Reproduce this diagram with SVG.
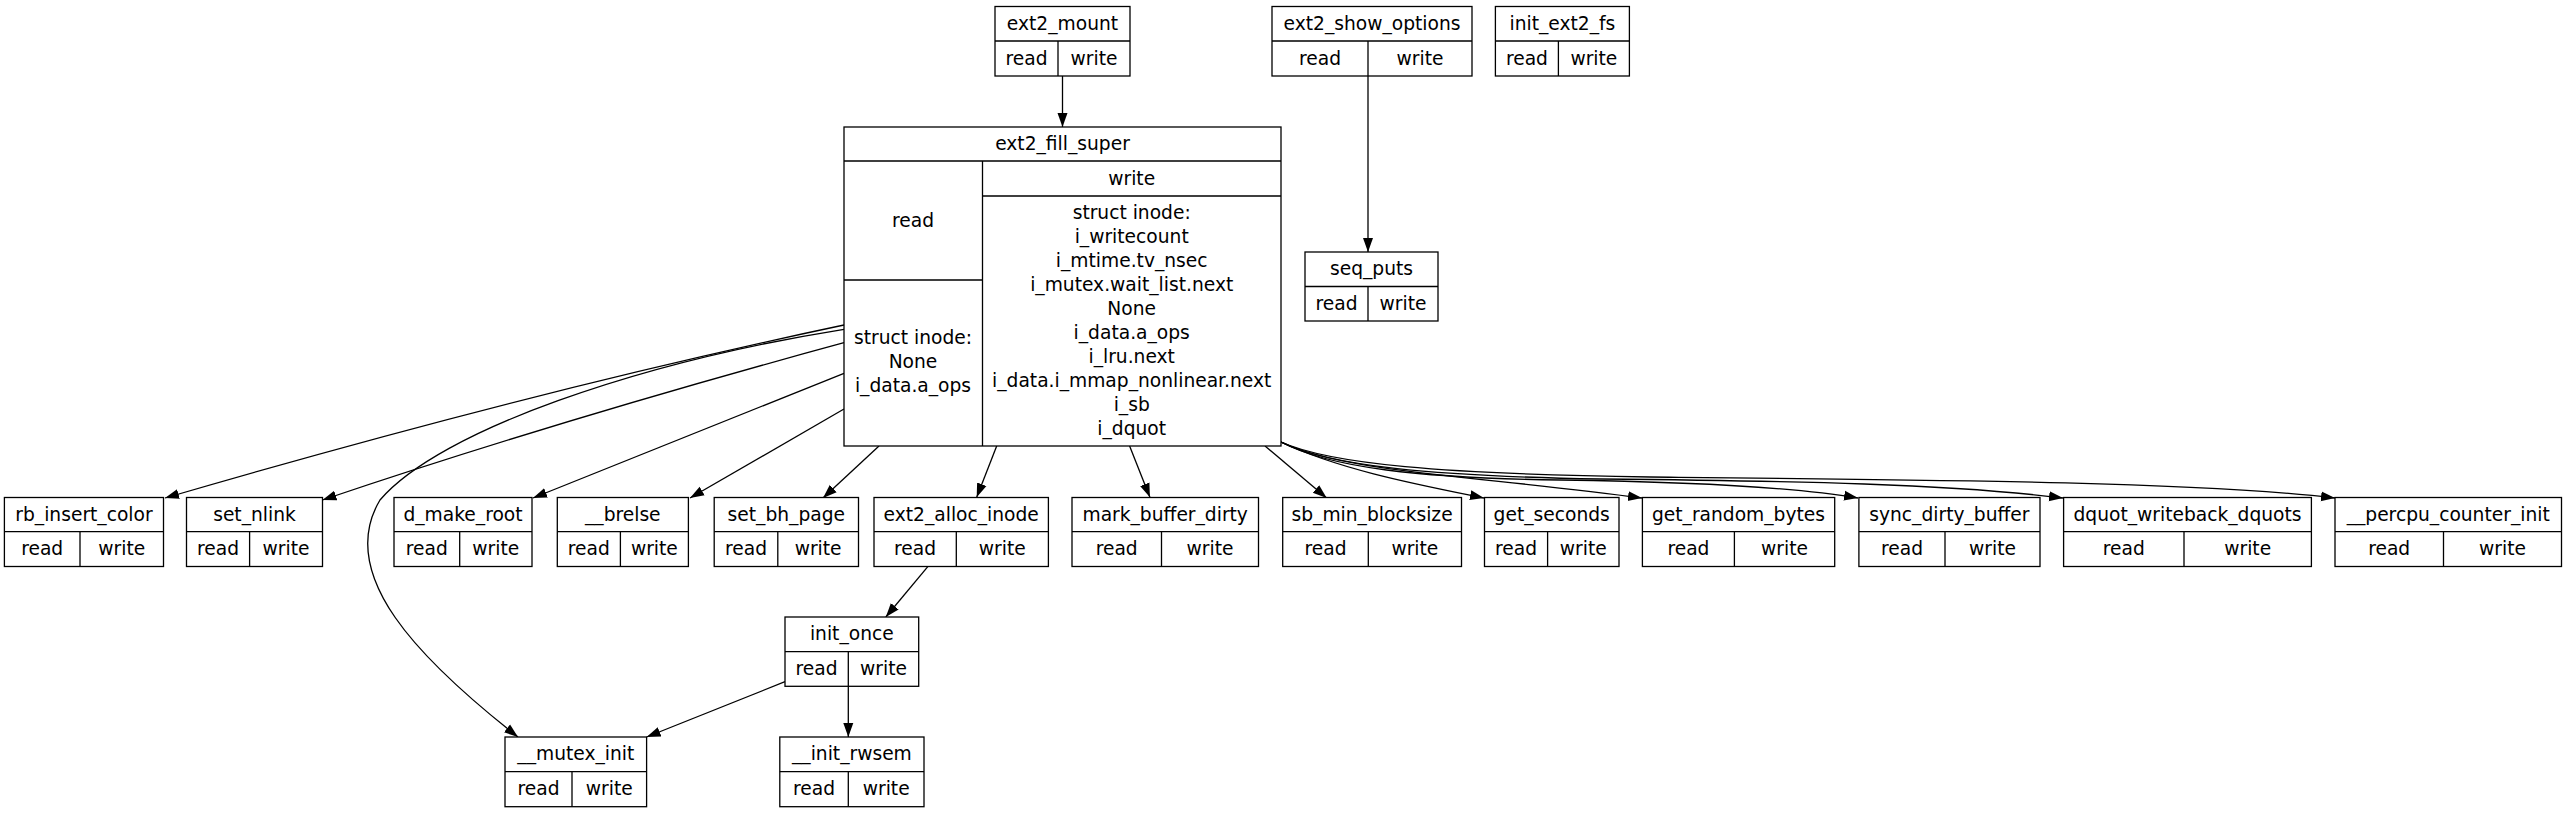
<svg xmlns="http://www.w3.org/2000/svg" width="2565" height="813" viewBox="0 0 2565 813">
<style>
.b{fill:#fff;stroke:#000;stroke-width:1.3}
.l{fill:none;stroke:#000;stroke-width:1.3}
.t{font-family:"DejaVu Sans","Liberation Sans",sans-serif;font-size:18.67px;text-anchor:middle;fill:#000}
.e{fill:none;stroke:#000;stroke-width:1.3;marker-end:url(#ah)}
</style>
<defs>
<marker id="ah" markerUnits="userSpaceOnUse" markerWidth="16" markerHeight="12" refX="14" refY="6" orient="auto"><path d="M0,1 L14,6 L0,11 z" fill="#000"/></marker>
</defs>
<rect x="0" y="0" width="2565" height="813" fill="#fff"/>
<g id="connectors">
<path class="e" d="M1062.5,76 L1062.5,127"/>
<path class="e" d="M1368,76 L1368,252"/>
<path class="e" d="M844,325 C617,373 391,432 165,498"/>
<path class="e" d="M844,342.7 C670,390 500,440 322.5,500"/>
<path class="e" d="M844,373.3 L533,498"/>
<path class="e" d="M844,409 L690,498"/>
<path class="e" d="M879,446 L823,498"/>
<path class="e" d="M844,329.3 C640,362 440,430 380,500 C335,575 420,660 518,737"/>
<path class="e" d="M996.7,446 L976.7,497.3"/>
<path class="e" d="M1129.6,446 L1149.9,497.3"/>
<path class="e" d="M1265,446 L1326.7,498"/>
<path class="e" d="M1281,442 C1340,470 1420,485 1484,498"/>
<path class="e" d="M1281,442 C1340,472 1480,476 1642,498"/>
<path class="e" d="M1281,442 C1330,468 1420,478 1560,480 C1700,482 1800,488 1858,498"/>
<path class="e" d="M1281,442 C1330,466 1430,476 1600,479 C1800,481 1950,484 2063,498"/>
<path class="e" d="M1281,442 C1330,464 1440,474 1650,477 C1950,480 2200,482 2335,498"/>
<path class="e" d="M927.8,566.7 L885.8,617"/>
<path class="e" d="M785,681.7 L646.6,737"/>
<path class="e" d="M848.3,686.3 L848.3,737"/>
</g>
<g id="ext2_mount">
<rect class="b" x="995" y="6.5" width="135" height="69.5"/>
<path class="l" d="M995,41 H1130 M1058,41 V76"/>
<text class="t" x="1062.5" y="29.75">ext2_mount</text>
<text class="t" x="1026.5" y="64.5">read</text>
<text class="t" x="1094" y="64.5">write</text>
</g>
<g id="ext2_show_options">
<rect class="b" x="1272" y="6.5" width="200" height="69.5"/>
<path class="l" d="M1272,41 H1472 M1368,41 V76"/>
<text class="t" x="1372" y="29.75">ext2_show_options</text>
<text class="t" x="1320" y="64.5">read</text>
<text class="t" x="1420" y="64.5">write</text>
</g>
<g id="init_ext2_fs">
<rect class="b" x="1495.4" y="6.5" width="134" height="69.5"/>
<path class="l" d="M1495.4,41 H1629.4 M1558.4,41 V76"/>
<text class="t" x="1562.4" y="29.75">init_ext2_fs</text>
<text class="t" x="1526.9" y="64.5">read</text>
<text class="t" x="1593.9" y="64.5">write</text>
</g>
<g id="seq_puts">
<rect class="b" x="1305" y="252" width="133" height="69"/>
<path class="l" d="M1305,286.5 H1438 M1368,286.5 V321"/>
<text class="t" x="1371.5" y="275">seq_puts</text>
<text class="t" x="1336.5" y="309.75">read</text>
<text class="t" x="1403" y="309.75">write</text>
</g>
<g id="ext2_fill_super">
<rect class="b" x="844" y="127" width="437" height="319"/>
<path class="l" d="M844,161 H1281 M982.5,161 V446 M982.5,196 H1281 M844,280 H982.5"/>
<text class="t" x="1062.5" y="150">ext2_fill_super</text>
<text class="t" x="1131.7" y="184.5">write</text>
<text class="t" x="913" y="226.5">read</text>
<text class="t" x="913" y="344">struct inode:</text>
<text class="t" x="913" y="368">None</text>
<text class="t" x="913" y="392">i_data.a_ops</text>
<text class="t" x="1131.7" y="219">struct inode:</text>
<text class="t" x="1131.7" y="243">i_writecount</text>
<text class="t" x="1131.7" y="267">i_mtime.tv_nsec</text>
<text class="t" x="1131.7" y="291">i_mutex.wait_list.next</text>
<text class="t" x="1131.7" y="315">None</text>
<text class="t" x="1131.7" y="339">i_data.a_ops</text>
<text class="t" x="1131.7" y="363">i_lru.next</text>
<text class="t" x="1131.7" y="387">i_data.i_mmap_nonlinear.next</text>
<text class="t" x="1131.7" y="411">i_sb</text>
<text class="t" x="1131.7" y="435">i_dquot</text>
</g>
<g id="rb_insert_color">
<rect class="b" x="4.4" y="497.5" width="159.1" height="69"/>
<path class="l" d="M4.4,531.7 H163.5 M80,531.7 V566.5"/>
<text class="t" x="84" y="520.6">rb_insert_color</text>
<text class="t" x="42.2" y="555.1">read</text>
<text class="t" x="121.8" y="555.1">write</text>
</g>
<g id="set_nlink">
<rect class="b" x="186.5" y="497.5" width="136" height="69"/>
<path class="l" d="M186.5,531.7 H322.5 M249.6,531.7 V566.5"/>
<text class="t" x="254.5" y="520.6">set_nlink</text>
<text class="t" x="218" y="555.1">read</text>
<text class="t" x="286" y="555.1">write</text>
</g>
<g id="d_make_root">
<rect class="b" x="394" y="497.5" width="138" height="69"/>
<path class="l" d="M394,531.7 H532 M459.7,531.7 V566.5"/>
<text class="t" x="463" y="520.6">d_make_root</text>
<text class="t" x="426.8" y="555.1">read</text>
<text class="t" x="495.8" y="555.1">write</text>
</g>
<g id="__brelse">
<rect class="b" x="557.3" y="497.5" width="131.1" height="69"/>
<path class="l" d="M557.3,531.7 H688.4 M620.4,531.7 V566.5"/>
<text class="t" x="622.8" y="520.6">__brelse</text>
<text class="t" x="588.8" y="555.1">read</text>
<text class="t" x="654.4" y="555.1">write</text>
</g>
<g id="set_bh_page">
<rect class="b" x="714.2" y="497.5" width="144.3" height="69"/>
<path class="l" d="M714.2,531.7 H858.5 M777.8,531.7 V566.5"/>
<text class="t" x="786.3" y="520.6">set_bh_page</text>
<text class="t" x="746" y="555.1">read</text>
<text class="t" x="818.1" y="555.1">write</text>
</g>
<g id="ext2_alloc_inode">
<rect class="b" x="874" y="497.5" width="174.4" height="69"/>
<path class="l" d="M874,531.7 H1048.4 M956.3,531.7 V566.5"/>
<text class="t" x="961.2" y="520.6">ext2_alloc_inode</text>
<text class="t" x="915.1" y="555.1">read</text>
<text class="t" x="1002.3" y="555.1">write</text>
</g>
<g id="mark_buffer_dirty">
<rect class="b" x="1072" y="497.5" width="186.5" height="69"/>
<path class="l" d="M1072,531.7 H1258.5 M1161.5,531.7 V566.5"/>
<text class="t" x="1165.2" y="520.6">mark_buffer_dirty</text>
<text class="t" x="1116.7" y="555.1">read</text>
<text class="t" x="1210" y="555.1">write</text>
</g>
<g id="sb_min_blocksize">
<rect class="b" x="1282.7" y="497.5" width="178.8" height="69"/>
<path class="l" d="M1282.7,531.7 H1461.5 M1368.3,531.7 V566.5"/>
<text class="t" x="1372.1" y="520.6">sb_min_blocksize</text>
<text class="t" x="1325.5" y="555.1">read</text>
<text class="t" x="1414.9" y="555.1">write</text>
</g>
<g id="get_seconds">
<rect class="b" x="1484.5" y="497.5" width="134.5" height="69"/>
<path class="l" d="M1484.5,531.7 H1619 M1547.6,531.7 V566.5"/>
<text class="t" x="1551.7" y="520.6">get_seconds</text>
<text class="t" x="1516" y="555.1">read</text>
<text class="t" x="1583.3" y="555.1">write</text>
</g>
<g id="get_random_bytes">
<rect class="b" x="1642.4" y="497.5" width="192.3" height="69"/>
<path class="l" d="M1642.4,531.7 H1834.7 M1734.4,531.7 V566.5"/>
<text class="t" x="1738.5" y="520.6">get_random_bytes</text>
<text class="t" x="1688.4" y="555.1">read</text>
<text class="t" x="1784.5" y="555.1">write</text>
</g>
<g id="sync_dirty_buffer">
<rect class="b" x="1858.9" y="497.5" width="181.1" height="69"/>
<path class="l" d="M1858.9,531.7 H2040 M1945,531.7 V566.5"/>
<text class="t" x="1949.4" y="520.6">sync_dirty_buffer</text>
<text class="t" x="1902" y="555.1">read</text>
<text class="t" x="1992.5" y="555.1">write</text>
</g>
<g id="dquot_writeback_dquots">
<rect class="b" x="2063.6" y="497.5" width="247.8" height="69"/>
<path class="l" d="M2063.6,531.7 H2311.4 M2184,531.7 V566.5"/>
<text class="t" x="2187.5" y="520.6">dquot_writeback_dquots</text>
<text class="t" x="2123.8" y="555.1">read</text>
<text class="t" x="2247.7" y="555.1">write</text>
</g>
<g id="__percpu_counter_init">
<rect class="b" x="2335" y="497.5" width="226.5" height="69"/>
<path class="l" d="M2335,531.7 H2561.5 M2443.5,531.7 V566.5"/>
<text class="t" x="2448.2" y="520.6">__percpu_counter_init</text>
<text class="t" x="2389.2" y="555.1">read</text>
<text class="t" x="2502.5" y="555.1">write</text>
</g>
<g id="init_once">
<rect class="b" x="785" y="617" width="133.7" height="69.3"/>
<path class="l" d="M785,651.7 H918.7 M848.3,651.7 V686.3"/>
<text class="t" x="851.8" y="640.3">init_once</text>
<text class="t" x="816.6" y="675">read</text>
<text class="t" x="883.5" y="675">write</text>
</g>
<g id="__mutex_init">
<rect class="b" x="505" y="737" width="141.6" height="69.7"/>
<path class="l" d="M505,771.7 H646.6 M572,771.7 V806.7"/>
<text class="t" x="575.8" y="760.3">__mutex_init</text>
<text class="t" x="538.5" y="795.2">read</text>
<text class="t" x="609.3" y="795.2">write</text>
</g>
<g id="__init_rwsem">
<rect class="b" x="779.8" y="737" width="144.2" height="69.7"/>
<path class="l" d="M779.8,771.7 H924 M848.3,771.7 V806.7"/>
<text class="t" x="851.9" y="760.3">__init_rwsem</text>
<text class="t" x="814" y="795.2">read</text>
<text class="t" x="886.2" y="795.2">write</text>
</g>
</svg>
